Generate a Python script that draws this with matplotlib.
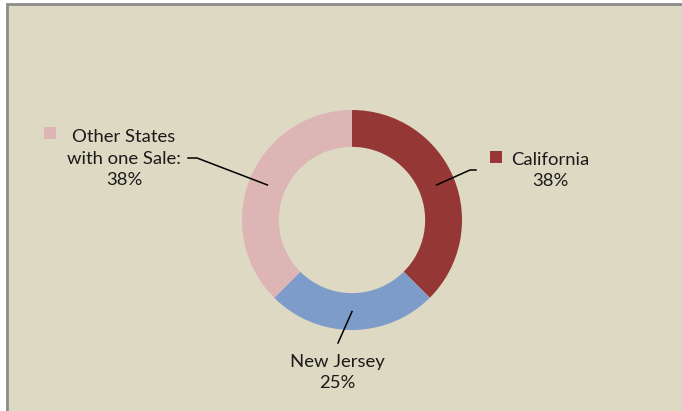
import matplotlib
matplotlib.use("Agg")
import matplotlib.pyplot as plt
import numpy as np
from matplotlib.patches import Rectangle

categories = ["California", "New Jersey", "Other States\nwith one Sale:"]
values = [3, 2, 3]
colors = ["#953735", "#7E9CCA", "#DDB5B5"]

W, H = 682, 411
fig = plt.figure(figsize=(W / 100, H / 100), dpi=100, facecolor="white")

# background axes in pixel coordinates
bg = fig.add_axes([0, 0, 1, 1])
bg.set_xlim(0, W)
bg.set_ylim(H, 0)
bg.axis("off")
bg.add_patch(Rectangle((7, 4), W, H, facecolor="#DDD9C3", edgecolor="#8C8C8C", lw=2, zorder=0))

# pie geometry (pixels)
cx, cy, R = 352, 220, 110
pie_ax = fig.add_axes([(cx - R) / W, (H - cy - R) / H, 2 * R / W, 2 * R / H])
ring = 0.335
wedges, _ = pie_ax.pie(values, colors=colors, startangle=90, counterclock=False,
                       radius=1, wedgeprops=dict(width=ring, edgecolor="none"))
pie_ax.set_xlim(-1, 1)
pie_ax.set_ylim(-1, 1)
pie_ax.set_aspect("equal")
pie_ax.axis("off")

# overlay axes on top for labels and leader lines
ov = fig.add_axes([0, 0, 1, 1])
ov.set_xlim(0, W)
ov.set_ylim(H, 0)
ov.axis("off")
ov.patch.set_alpha(0)

total = sum(values)
pcts = ["%.0f%%" % (100 * v / total) for v in values]

font = dict(family=["Lato", "DejaVu Sans"], fontsize=13.3, color="#1a1a1a")

# leader-line endpoints & labels (pixels)
label_pos = [(550, 170.5), (337.5, 372.5), (124, 158.5)]
elbows = [[(470, 170), (476, 170)], [(338, 343)], [(197, 158), (188, 158)]]
squares = [(490, 151), None, (44, 127)]

for i, w in enumerate(wedges):
    mid = np.deg2rad((w.theta1 + w.theta2) / 2)
    rm = R * (1 - ring / 2)
    sx, sy = cx + rm * np.cos(mid), cy - rm * np.sin(mid)
    xs = [sx] + [p[0] for p in elbows[i]]
    ys = [sy] + [p[1] for p in elbows[i]]
    ov.plot(xs, ys, color="black", lw=1.1, zorder=5)
    lx, ly = label_pos[i]
    ov.text(lx, ly, categories[i] + "\n" + pcts[i], ha="center", va="center",
            linespacing=1.45, **font)
    if squares[i] is not None:
        ov.add_patch(Rectangle(squares[i], 12, 12, facecolor=colors[i], edgecolor="none", zorder=5))

fig.savefig("out.png", dpi=100, facecolor="white")
